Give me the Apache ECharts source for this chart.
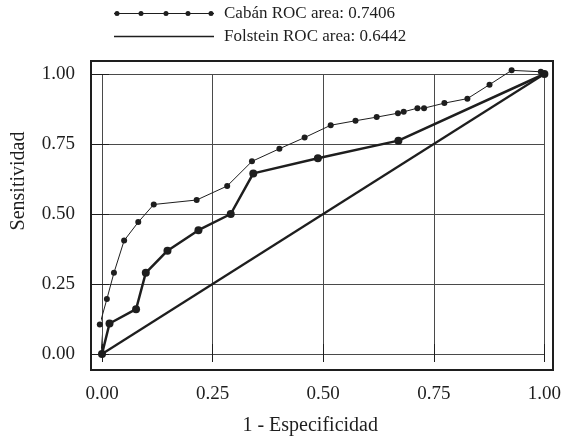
<!DOCTYPE html>
<html>
<head>
    <meta charset="utf-8">
    <title>Curvas ROC</title>
    <script src="https://cdn.jsdelivr.net/npm/echarts@6/dist/echarts.min.js"></script>
</head>
<body style="margin:0;padding:0;background:#fff;">
<div id="main" style="margin:0px;padding:0px;width:564px;height:441px;"></div>
<script type="text/javascript">
    // datos
    var cabanName = 'Cabán ROC area: 0.7406';
    var folsName = 'Folstein ROC area: 0.6442';
    var cabanX = [0, -0.005, 0.011, 0.027, 0.05, 0.082, 0.117, 0.214, 0.283, 0.339, 0.401, 0.458, 0.517, 0.573, 0.621, 0.669, 0.682, 0.713, 0.728, 0.774, 0.826, 0.876, 0.926, 0.992, 1.0];
    var cabanY = [0, 0.105, 0.196, 0.29, 0.405, 0.471, 0.534, 0.55, 0.60, 0.688, 0.733, 0.773, 0.817, 0.833, 0.846, 0.86, 0.865, 0.878, 0.878, 0.896, 0.912, 0.962, 1.013, 1.008, 1.0];
    var folsX = [0, 0.017, 0.077, 0.099, 0.148, 0.218, 0.291, 0.342, 0.488, 0.67, 1.0];
    var folsY = [0, 0.109, 0.16, 0.29, 0.369, 0.442, 0.50, 0.645, 0.699, 0.762, 1.0];
    var diagX = [0, 1];
    var diagY = [0, 1];

    function pares(xs, ys) {
        return xs.map(function (x, i) { return [x, ys[i]]; });
    }

    var serif = 'Liberation Serif';
    var ink = '#1e1e1e';

    // iconos de la leyenda: linea con puntos / linea sola
    var dotsAt = [3, 27, 52, 74, 97];
    var cabanIcon = 'path://M0 2 H100 V3 H0 Z';
    dotsAt.forEach(function (c) {
        cabanIcon += ' M' + (c - 2.5) + ' 2.5 a2.5 2.5 0 1 1 5 0 a2.5 2.5 0 1 1 -5 0 Z';
    });
    var folsIcon = 'path://M0 0 L0.01 0 L0 0.01 Z M0 5 L0.01 5 L0 4.99 Z M0 1.75 H100 V3.25 H0 Z';

    var myChart = echarts.init(document.getElementById('main'));

    var option = {
        animation: false,
        backgroundColor: '#ffffff',
        grid: { left: 102, right: 19, top: 74, bottom: 86 },
        legend: {
            orient: 'vertical',
            left: 114,
            top: 5,
            padding: 0,
            itemWidth: 100,
            itemHeight: 5,
            itemGap: 6,
            itemStyle: { borderWidth: 0 },
            textStyle: { fontFamily: serif, fontSize: 17, color: ink, lineHeight: 17, padding: [0, 0, 0, 5] },
            data: [
                { name: cabanName, icon: cabanIcon },
                { name: folsName, icon: folsIcon }
            ]
        },
        graphic: [{
            type: 'rect',
            z: 10,
            shape: { x: 91, y: 61, width: 462, height: 309 },
            style: { fill: null, stroke: ink, lineWidth: 2 }
        }],
        xAxis: [{
            type: 'value', position: 'bottom', offset: 15,
            min: 0, max: 1, interval: 0.25,
            name: '1 - Especificidad', nameLocation: 'middle', nameGap: 47,
            nameTextStyle: { fontFamily: serif, fontSize: 20, color: ink, padding: [0, 26, 0, 0] },
            axisLine: { show: false },
            axisTick: { show: true, length: 8, lineStyle: { color: ink, width: 1 } },
            axisLabel: {
                fontFamily: serif, fontSize: 19, color: ink, margin: 16,
                formatter: function (v) { return v.toFixed(2); }
            },
            splitLine: { show: true, lineStyle: { color: '#4a4a4a', width: 1 } }
        }, {
            type: 'value', position: 'top', offset: 13,
            min: 0, max: 1, interval: 0.25,
            axisLine: { show: false },
            axisTick: { show: true, length: 10, lineStyle: { color: ink, width: 1 } },
            axisLabel: { show: false },
            splitLine: { show: false }
        }],
        yAxis: [{
            type: 'value', position: 'left', offset: 11,
            min: 0, max: 1, interval: 0.25,
            name: 'Sensitividad', nameLocation: 'middle', nameGap: 62,
            nameTextStyle: { fontFamily: serif, fontSize: 20, color: ink, padding: [0, 0, 0, 66] },
            axisLine: { show: false },
            axisTick: { show: true, length: 10, lineStyle: { color: ink, width: 1 } },
            axisLabel: {
                fontFamily: serif, fontSize: 19, color: ink, margin: 16,
                formatter: function (v) { return v.toFixed(2); }
            },
            splitLine: { show: true, lineStyle: { color: '#4a4a4a', width: 1 } }
        }, {
            type: 'value', position: 'right', offset: 8,
            min: 0, max: 1, interval: 0.25,
            axisLine: { show: false },
            axisTick: { show: true, length: 7, lineStyle: { color: ink, width: 1 } },
            axisLabel: { show: false },
            splitLine: { show: false }
        }],
        series: [{
            name: 'diagonal',
            type: 'line',
            data: pares(diagX, diagY),
            showSymbol: false,
            clip: false,
            lineStyle: { color: ink, width: 2.2 },
            itemStyle: { color: ink }
        }, {
            name: folsName,
            type: 'line',
            data: pares(folsX, folsY),
            symbol: 'circle',
            symbolSize: 8,
            clip: false,
            lineStyle: { color: ink, width: 2.5 },
            itemStyle: { color: ink, borderWidth: 0 }
        }, {
            name: cabanName,
            type: 'line',
            data: pares(cabanX, cabanY),
            symbol: 'circle',
            symbolSize: 6,
            clip: false,
            lineStyle: { color: ink, width: 1 },
            itemStyle: { color: ink, borderWidth: 0 }
        }]
    };

    myChart.setOption(option);
</script>
</body>
</html>
